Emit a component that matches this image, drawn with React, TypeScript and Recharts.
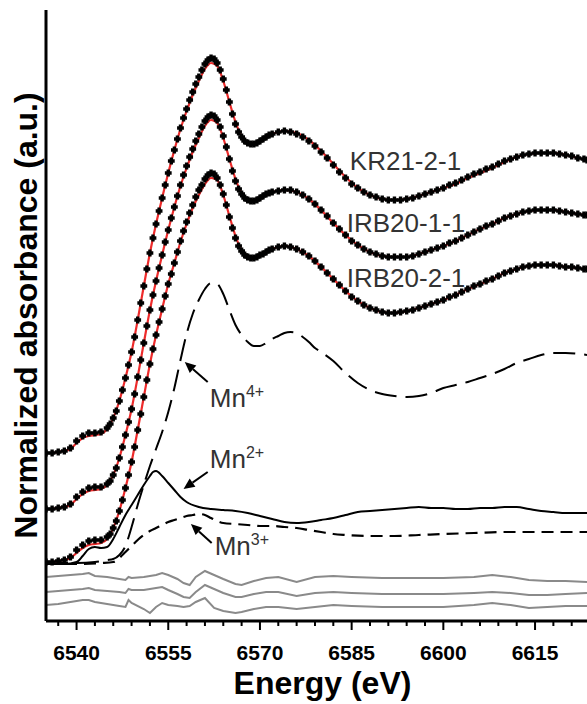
import React from 'react';
import { LineChart, Line, XAxis, YAxis, ReferenceDot, ReferenceLine, Label } from 'recharts';

const FONT = "'Liberation Sans', Arial, Helvetica, sans-serif";

// Energy grid of the measured spectra (eV)
const sampleEnergy = [
  6535, 6536, 6537, 6538, 6539, 6540, 6541, 6542, 6543, 6544, 6545,
  6545.5, 6546, 6546.5, 6547, 6547.5, 6548, 6548.5, 6549, 6549.5, 6550,
  6550.5, 6551, 6551.5, 6552, 6552.5, 6553, 6553.5, 6554, 6554.5, 6555,
  6555.5, 6556, 6556.5, 6557, 6557.5, 6558, 6558.5, 6559, 6559.5, 6560,
  6560.5, 6561, 6561.5, 6562, 6562.5, 6563, 6563.5, 6564, 6564.5, 6565,
  6565.5, 6566, 6566.5, 6567, 6567.5, 6568, 6568.5, 6569, 6569.5, 6570,
  6570.5, 6571, 6571.5, 6572,
  6573, 6574, 6575, 6576, 6577, 6578, 6579, 6580, 6581, 6582,
  6583, 6584, 6585, 6586, 6587, 6588, 6589, 6590, 6591, 6592,
  6593, 6594, 6595, 6596, 6597, 6598, 6599, 6600, 6601, 6602,
  6603, 6604, 6605, 6606, 6607, 6608, 6609, 6610, 6611, 6612,
  6613, 6614, 6615, 6616, 6617, 6618, 6619, 6620, 6621, 6622,
  6623, 6623.5,
];

// Normalized absorbance (stacked with offsets)
const kr21 = [
  1.68, 1.68, 1.69, 1.70, 1.73, 1.80, 1.85, 1.88, 1.88, 1.89, 1.93,
  1.97, 2.03, 2.10, 2.20, 2.31, 2.43, 2.56, 2.69, 2.84, 3.01,
  3.18, 3.35, 3.52, 3.68, 3.83, 3.97, 4.10, 4.23, 4.36, 4.48,
  4.60, 4.71, 4.82, 4.93, 5.03, 5.12, 5.21, 5.29, 5.37, 5.44,
  5.51, 5.57, 5.61, 5.63, 5.62, 5.58, 5.51, 5.42, 5.31, 5.19,
  5.07, 4.97, 4.89, 4.84, 4.80, 4.78, 4.77, 4.77, 4.78, 4.80,
  4.82, 4.84, 4.86, 4.87,
  4.89, 4.90, 4.89, 4.87, 4.84, 4.80, 4.75, 4.69, 4.63, 4.56,
  4.49, 4.43, 4.37, 4.33, 4.29, 4.26, 4.24, 4.22, 4.21, 4.21,
  4.21, 4.22, 4.23, 4.25, 4.27, 4.29, 4.31, 4.33, 4.36, 4.38,
  4.41, 4.44, 4.47, 4.49, 4.52, 4.54, 4.57, 4.60, 4.62, 4.64,
  4.66, 4.67, 4.68, 4.68, 4.68, 4.68, 4.67, 4.66, 4.65, 4.63,
  4.62, 4.61,
];

const irb201 = [
  1.12, 1.12, 1.13, 1.14, 1.17, 1.24, 1.29, 1.33, 1.34, 1.34, 1.37,
  1.40, 1.46, 1.53, 1.63, 1.74, 1.86, 1.99, 2.12, 2.27, 2.44,
  2.61, 2.78, 2.95, 3.11, 3.26, 3.40, 3.53, 3.66, 3.79, 3.91,
  4.03, 4.14, 4.25, 4.36, 4.46, 4.55, 4.64, 4.72, 4.80, 4.87,
  4.94, 5.00, 5.04, 5.06, 5.05, 5.01, 4.94, 4.85, 4.74, 4.62,
  4.50, 4.40, 4.32, 4.27, 4.23, 4.21, 4.20, 4.20, 4.21, 4.23,
  4.25, 4.27, 4.28, 4.29,
  4.30, 4.31, 4.31, 4.29, 4.26, 4.22, 4.17, 4.11, 4.05, 3.98,
  3.92, 3.86, 3.80, 3.76, 3.72, 3.69, 3.67, 3.65, 3.64, 3.64,
  3.64, 3.64, 3.65, 3.67, 3.69, 3.71, 3.73, 3.75, 3.78, 3.80,
  3.83, 3.86, 3.89, 3.92, 3.95, 3.97, 4.00, 4.03, 4.05, 4.07,
  4.09, 4.10, 4.11, 4.11, 4.11, 4.11, 4.10, 4.09, 4.08, 4.07,
  4.06, 4.06,
];

const irb202 = [
  0.59, 0.59, 0.60, 0.61, 0.64, 0.71, 0.76, 0.80, 0.81, 0.81, 0.84,
  0.87, 0.93, 1.00, 1.10, 1.21, 1.33, 1.46, 1.59, 1.74, 1.91,
  2.07, 2.24, 2.41, 2.57, 2.72, 2.86, 2.99, 3.12, 3.25, 3.37,
  3.47, 3.58, 3.69, 3.80, 3.90, 3.99, 4.08, 4.16, 4.24, 4.31,
  4.36, 4.42, 4.46, 4.48, 4.47, 4.43, 4.36, 4.27, 4.16, 4.04,
  3.93, 3.83, 3.75, 3.70, 3.66, 3.64, 3.63, 3.63, 3.64, 3.66,
  3.67, 3.69, 3.71, 3.72,
  3.74, 3.75, 3.74, 3.72, 3.69, 3.65, 3.60, 3.54, 3.48, 3.42,
  3.36, 3.30, 3.24, 3.20, 3.16, 3.13, 3.11, 3.09, 3.08, 3.08,
  3.09, 3.10, 3.11, 3.13, 3.15, 3.17, 3.19, 3.21, 3.24, 3.26,
  3.29, 3.32, 3.35, 3.37, 3.40, 3.42, 3.45, 3.48, 3.50, 3.52,
  3.54, 3.55, 3.56, 3.56, 3.56, 3.56, 3.55, 3.54, 3.54, 3.53,
  3.52, 3.52,
];

// Linear-combination fits (red)
const fitEnergy = [
  6535, 6536, 6537, 6538, 6539, 6540, 6541, 6542, 6543, 6544, 6545,
  6546, 6547, 6548, 6549, 6550, 6551, 6552, 6553, 6554, 6555,
  6556, 6557, 6558, 6559, 6560, 6561, 6562, 6563, 6564, 6565,
  6566, 6567, 6568, 6569, 6570, 6571, 6572,
  6574, 6576, 6578, 6580, 6582, 6584, 6586, 6588, 6590, 6592, 6594, 6596, 6598,
  6600, 6602, 6604, 6606, 6608, 6610, 6612, 6614, 6616, 6618, 6620, 6622,
  6623.5,
];

const kr21Fit = [
  1.68, 1.68, 1.69, 1.70, 1.72, 1.78, 1.83, 1.85, 1.86, 1.87, 1.92,
  2.03, 2.20, 2.43, 2.69, 3.01, 3.35, 3.68, 3.97, 4.23, 4.48,
  4.71, 4.92, 5.10, 5.26, 5.40, 5.52, 5.58, 5.55, 5.40, 5.19,
  4.99, 4.85, 4.79, 4.78, 4.80, 4.84, 4.87,
  4.90, 4.88, 4.81, 4.70, 4.57, 4.44, 4.33, 4.26, 4.22, 4.21, 4.22, 4.25, 4.29,
  4.33, 4.37, 4.43, 4.48, 4.53, 4.59, 4.64, 4.67, 4.68, 4.68, 4.66, 4.63,
  4.61,
];

const irb201Fit = [
  1.12, 1.12, 1.13, 1.14, 1.16, 1.22, 1.27, 1.30, 1.31, 1.32, 1.36,
  1.46, 1.63, 1.86, 2.12, 2.44, 2.78, 3.11, 3.40, 3.66, 3.91,
  4.14, 4.35, 4.53, 4.69, 4.83, 4.95, 5.01, 4.98, 4.83, 4.62,
  4.42, 4.28, 4.22, 4.21, 4.23, 4.27, 4.29,
  4.31, 4.29, 4.22, 4.11, 3.98, 3.86, 3.76, 3.69, 3.65, 3.64, 3.64, 3.67, 3.71,
  3.75, 3.80, 3.86, 3.92, 3.97, 4.03, 4.07, 4.10, 4.11, 4.11, 4.09, 4.07,
  4.06,
];

const irb202Fit = [
  0.59, 0.59, 0.60, 0.61, 0.63, 0.68, 0.73, 0.76, 0.77, 0.78, 0.82,
  0.93, 1.10, 1.33, 1.59, 1.91, 2.24, 2.57, 2.86, 3.12, 3.37,
  3.58, 3.79, 3.97, 4.13, 4.26, 4.37, 4.43, 4.41, 4.26, 4.05,
  3.85, 3.71, 3.65, 3.63, 3.65, 3.69, 3.72,
  3.75, 3.72, 3.65, 3.54, 3.42, 3.30, 3.20, 3.13, 3.09, 3.08, 3.10, 3.13, 3.17,
  3.21, 3.26, 3.32, 3.37, 3.42, 3.48, 3.52, 3.55, 3.56, 3.56, 3.54, 3.53,
  3.52,
];

// Reference compounds
const mn4Energy = [
  6535, 6540, 6543, 6545, 6546, 6547, 6548, 6549, 6550, 6551, 6552, 6553, 6554,
  6555, 6556, 6557, 6558, 6559, 6560, 6561, 6562, 6563, 6564, 6565, 6566, 6567,
  6568, 6569, 6570, 6571, 6572, 6573, 6574, 6575, 6576, 6577, 6578, 6579, 6580,
  6582, 6584, 6586, 6588, 6590, 6592, 6594, 6596, 6598, 6600, 6602, 6604, 6606,
  6608, 6610, 6612, 6614, 6616, 6618, 6620, 6623.5,
];
const mn4 = [
  0.58, 0.58, 0.59, 0.61, 0.62, 0.66, 0.75, 0.94, 1.16, 1.36, 1.55, 1.72, 1.89,
  2.09, 2.33, 2.61, 2.87, 3.07, 3.21, 3.32, 3.38, 3.37, 3.27, 3.11, 2.96, 2.86,
  2.79, 2.75, 2.75, 2.78, 2.82, 2.85, 2.88, 2.89, 2.88, 2.84, 2.79, 2.73, 2.69,
  2.60, 2.48, 2.38, 2.31, 2.27, 2.25, 2.24, 2.25, 2.28, 2.33, 2.36, 2.39, 2.43,
  2.47, 2.52, 2.58, 2.62, 2.66, 2.68, 2.68, 2.66,
];

const mn2Energy = [
  6535, 6538, 6540, 6541, 6542, 6543, 6544, 6545, 6546, 6547, 6548, 6549, 6550,
  6551, 6552, 6552.5, 6553, 6554, 6555, 6556, 6557, 6558, 6560, 6562, 6564, 6566,
  6568, 6570, 6572, 6574, 6576, 6578, 6580, 6582, 6584, 6586, 6588, 6590, 6592,
  6594, 6596, 6598, 6600, 6602, 6604, 6606, 6608, 6610, 6612, 6614, 6616, 6618,
  6620, 6623.5,
];
const mn2 = [
  0.57, 0.57, 0.59, 0.65, 0.72, 0.74, 0.73, 0.74, 0.82, 0.94, 1.06, 1.16, 1.26,
  1.36, 1.45, 1.49, 1.50, 1.45, 1.38, 1.31, 1.24, 1.19, 1.14, 1.12, 1.11, 1.10,
  1.08, 1.05, 1.02, 0.99, 0.98, 0.99, 1.01, 1.03, 1.06, 1.09, 1.10, 1.11, 1.12,
  1.13, 1.14, 1.13, 1.13, 1.12, 1.12, 1.13, 1.13, 1.14, 1.14, 1.12, 1.10, 1.09,
  1.08, 1.08,
];

const mn3Energy = [
  6535, 6540, 6544, 6546, 6547, 6548, 6549, 6550, 6551, 6552, 6553, 6554, 6555,
  6556, 6557, 6558, 6559, 6560, 6561, 6562, 6563, 6564, 6566, 6568, 6570, 6572,
  6574, 6576, 6578, 6580, 6582, 6584, 6588, 6592, 6596, 6600, 6605, 6610, 6615,
  6620, 6623.5,
];
const mn3 = [
  0.57, 0.57, 0.58, 0.59, 0.63, 0.69, 0.75, 0.81, 0.86, 0.90, 0.93, 0.96, 0.99,
  1.01, 1.03, 1.05, 1.06, 1.07, 1.06, 1.03, 1.00, 0.98, 0.97, 0.96, 0.95, 0.95,
  0.94, 0.93, 0.91, 0.89, 0.87, 0.86, 0.85, 0.85, 0.86, 0.87, 0.88, 0.89, 0.89,
  0.89, 0.89,
];

// Fit residuals (grey)
const residualEnergy = [
  6535, 6537, 6539, 6541, 6542, 6543, 6545, 6547, 6548, 6548.5, 6549, 6551, 6552,
  6553, 6554, 6555, 6556.5, 6557.5, 6558.5, 6559.5, 6561, 6562.5, 6564, 6566,
  6567, 6569, 6571, 6573, 6576, 6579, 6582, 6585, 6590, 6595, 6600, 6605, 6608,
  6611, 6614, 6617, 6620, 6623.5,
];
const residualKR21 = [
  0.44, 0.45, 0.46, 0.47, 0.48, 0.45, 0.44, 0.42, 0.41, 0.44, 0.43, 0.44, 0.45,
  0.46, 0.48, 0.46, 0.42, 0.38, 0.36, 0.44, 0.50, 0.46, 0.42, 0.37,
  0.36, 0.40, 0.43, 0.44, 0.39, 0.44, 0.45, 0.44, 0.43, 0.43, 0.43, 0.44, 0.46,
  0.44, 0.41, 0.40, 0.40, 0.39,
];
const residualIRB201 = [
  0.29, 0.30, 0.31, 0.32, 0.33, 0.31, 0.30, 0.29, 0.28, 0.32, 0.31, 0.31, 0.32,
  0.33, 0.34, 0.31, 0.27, 0.24, 0.23, 0.29, 0.36, 0.32, 0.28, 0.24,
  0.24, 0.27, 0.29, 0.29, 0.25, 0.28, 0.29, 0.28, 0.27, 0.27, 0.27, 0.28, 0.29,
  0.28, 0.26, 0.26, 0.27, 0.28,
];
const residualIRB202 = [
  0.16, 0.17, 0.19, 0.21, 0.21, 0.19, 0.17, 0.15, 0.14, 0.21, 0.18, 0.12, 0.08,
  0.14, 0.18, 0.16, 0.15, 0.14, 0.15, 0.19, 0.23, 0.13, 0.10, 0.08,
  0.09, 0.12, 0.14, 0.14, 0.12, 0.14, 0.16, 0.15, 0.14, 0.14, 0.14, 0.16, 0.18,
  0.16, 0.13, 0.14, 0.15, 0.15,
];

const xTicks = [
  6537, 6540, 6543, 6546, 6549, 6552, 6555, 6558, 6561, 6564, 6567, 6570, 6573,
  6576, 6579, 6582, 6585, 6588, 6591, 6594, 6597, 6600, 6603, 6606, 6609, 6612,
  6615, 6618, 6621,
];
const majorTicks = [6540, 6555, 6570, 6585, 6600, 6615];

const toPts = (es: number[], vs: number[]) => es.map((e, i) => ({ e, v: vs[i] }));

const EnergyTick = (props: any) => {
  const { x, y, payload } = props;
  const major = majorTicks.includes(payload.value);
  return (
    <g>
      <line x1={x} y1={y} x2={x} y2={y + (major ? 9 : 5)} stroke="#000" strokeWidth={2} />
      {major && (
        <text x={x} y={y + 39} textAnchor="middle" fontSize={21} fontWeight="bold" fontFamily={FONT} fill="#000">
          {payload.value}
        </text>
      )}
    </g>
  );
};

const crossDot = (p: any) => {
  const { cx, cy, index } = p;
  if (cx == null || cy == null) return <g key={`d${index}`} />;
  const a = 3.4;
  return (
    <path
      key={`d${index}`}
      d={`M${cx - a},${cy}H${cx + a}M${cx},${cy - a}V${cy + a}`}
      stroke="#000"
      strokeWidth={3.4}
      fill="none"
    />
  );
};

const arrowShape = (p: any) => {
  const { x1, y1, x2, y2 } = p;
  const ang = Math.atan2(y2 - y1, x2 - x1);
  const L = 11;
  const W = 5;
  const bx = x2 - L * Math.cos(ang);
  const by = y2 - L * Math.sin(ang);
  const px = -Math.sin(ang) * W;
  const py = Math.cos(ang) * W;
  return (
    <g>
      <line x1={x1} y1={y1} x2={bx} y2={by} stroke="#000" strokeWidth={2} />
      <polygon points={`${x2},${y2} ${bx + px},${by + py} ${bx - px},${by - py}`} fill="#000" />
    </g>
  );
};

const sampleLabel = (text: string) => (p: any) => (
  <text x={p.cx} y={p.cy} fontSize={26} fontFamily={FONT} fill="#333">
    {text}
  </text>
);

const ionLabel = (charge: string) => (p: any) => (
  <text x={p.cx} y={p.cy} fontSize={26} fontFamily={FONT} fill="#333">
    <tspan>Mn</tspan>
    <tspan fontSize={16} dy={-10}>{charge}</tspan>
  </text>
);

export default function App() {
  return (
    <div style={{ position: 'absolute', left: 0, top: 0, width: 587, height: 704, background: '#fff' }}>
      <LineChart width={587} height={704} margin={{ top: 10, right: 0, bottom: 0, left: 0 }}>
        <XAxis
          type="number"
          dataKey="e"
          domain={[6535, 6623.5]}
          allowDataOverflow
          ticks={xTicks}
          interval={0}
          height={83}
          tickSize={0}
          tickMargin={0}
          tickLine={false}
          tick={<EnergyTick />}
          axisLine={{ stroke: '#000', strokeWidth: 3 }}
        >
          <Label
            content={(props: any) => {
              const vb = props.viewBox;
              return (
                <text x={vb.x + vb.width / 2 + 6} y={vb.y + 73} textAnchor="middle" fontSize={32} fontWeight="bold" fontFamily={FONT} fill="#000">
                  Energy (eV)
                </text>
              );
            }}
          />
        </XAxis>
        <YAxis
          type="number"
          domain={[0, 6.11]}
          allowDataOverflow
          width={46}
          tick={false}
          tickLine={false}
          axisLine={{ stroke: '#000', strokeWidth: 3 }}
        >
          <Label
            content={(props: any) => {
              const vb = props.viewBox;
              const cx = vb.x + 37;
              const cy = vb.y + vb.height / 2;
              return (
                <text x={cx} y={cy} transform={`rotate(-90, ${cx}, ${cy})`} textAnchor="middle" fontSize={32} fontWeight="bold" fontFamily={FONT} fill="#000">
                  Normalized absorbance (a.u.)
                </text>
              );
            }}
          />
        </YAxis>

        <Line data={toPts(residualEnergy, residualKR21)} dataKey="v" type="linear" stroke="#8a8a8a" strokeWidth={2} dot={false} activeDot={false} isAnimationActive={false} />
        <Line data={toPts(residualEnergy, residualIRB201)} dataKey="v" type="linear" stroke="#8a8a8a" strokeWidth={2} dot={false} activeDot={false} isAnimationActive={false} />
        <Line data={toPts(residualEnergy, residualIRB202)} dataKey="v" type="linear" stroke="#8a8a8a" strokeWidth={2} dot={false} activeDot={false} isAnimationActive={false} />

        <Line data={toPts(mn4Energy, mn4)} dataKey="v" type="monotone" stroke="#000" strokeWidth={2} strokeDasharray="22 9" dot={false} activeDot={false} isAnimationActive={false} />
        <Line data={toPts(mn3Energy, mn3)} dataKey="v" type="monotone" stroke="#000" strokeWidth={2.2} strokeDasharray="12 7" dot={false} activeDot={false} isAnimationActive={false} />
        <Line data={toPts(mn2Energy, mn2)} dataKey="v" type="monotone" stroke="#000" strokeWidth={2} dot={false} activeDot={false} isAnimationActive={false} />

        <Line data={toPts(fitEnergy, kr21Fit)} dataKey="v" type="monotone" stroke="#ee2b2b" strokeWidth={2.2} dot={false} activeDot={false} isAnimationActive={false} />
        <Line data={toPts(fitEnergy, irb201Fit)} dataKey="v" type="monotone" stroke="#ee2b2b" strokeWidth={2.2} dot={false} activeDot={false} isAnimationActive={false} />
        <Line data={toPts(fitEnergy, irb202Fit)} dataKey="v" type="monotone" stroke="#ee2b2b" strokeWidth={2.2} dot={false} activeDot={false} isAnimationActive={false} />

        <Line data={toPts(sampleEnergy, kr21)} dataKey="v" type="monotone" stroke="none" dot={crossDot} activeDot={false} isAnimationActive={false} />
        <Line data={toPts(sampleEnergy, irb201)} dataKey="v" type="monotone" stroke="none" dot={crossDot} activeDot={false} isAnimationActive={false} />
        <Line data={toPts(sampleEnergy, irb202)} dataKey="v" type="monotone" stroke="none" dot={crossDot} activeDot={false} isAnimationActive={false} />

        <ReferenceDot x={6584.7} y={4.51} r={0} shape={sampleLabel('KR21-2-1')} />
        <ReferenceDot x={6584.2} y={3.89} r={0} shape={sampleLabel('IRB20-1-1')} />
        <ReferenceDot x={6584.2} y={3.34} r={0} shape={sampleLabel('IRB20-2-1')} />

        <ReferenceDot x={6561.8} y={2.14} r={0} shape={ionLabel('4+')} />
        <ReferenceDot x={6561.8} y={1.53} r={0} shape={ionLabel('2+')} />
        <ReferenceDot x={6562.6} y={0.66} r={0} shape={ionLabel('3+')} />

        <ReferenceLine segment={[{ x: 6561.45, y: 2.39 }, { x: 6557.7, y: 2.59 }]} shape={arrowShape} />
        <ReferenceLine segment={[{ x: 6561.45, y: 1.49 }, { x: 6557.5, y: 1.32 }]} shape={arrowShape} />
        <ReferenceLine segment={[{ x: 6562.1, y: 0.78 }, { x: 6558.7, y: 0.97 }]} shape={arrowShape} />
      </LineChart>
    </div>
  );
}
